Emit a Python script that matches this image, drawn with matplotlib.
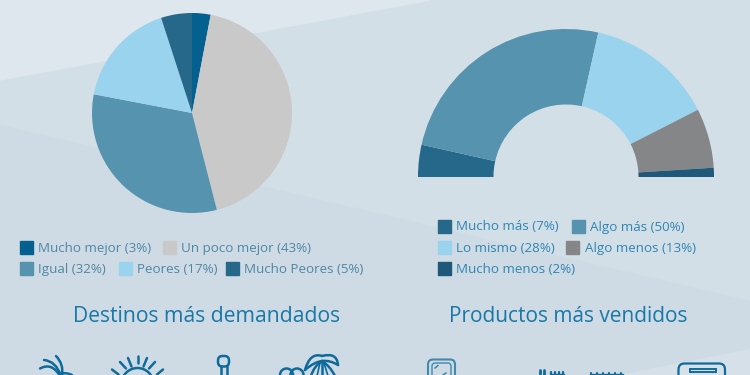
import matplotlib
matplotlib.use('Agg')
import matplotlib.pyplot as plt
from matplotlib.patches import Polygon, Rectangle, Circle, FancyBboxPatch, PathPatch
from matplotlib.path import Path

plt.rcParams['font.family'] = ['Open Sans', 'DejaVu Sans']

# datos de los graficos
pie_labels = ['Mucho mejor (3%)', 'Un poco mejor (43%)', 'Igual (32%)', 'Peores (17%)', 'Mucho Peores (5%)']
pie_values = [3, 43, 32, 17, 5]
pie_colors = ['#04608f', '#c9c9ca', '#5693ae', '#9ad3ee', '#26688a']

half_labels = ['Mucho más (7%)', 'Algo más (50%)', 'Lo mismo (28%)', 'Algo menos (13%)', 'Mucho menos (2%)']
half_values = [7, 50, 28, 13, 2]
half_colors = ['#26688a', '#5693ae', '#9ad3ee', '#858688', '#1f5878']

titles = ['Destinos más demandados', 'Productos más vendidos']

W, H = 750, 375
BLUE = '#1878a8'
LEG_L = '#4f87a5'
LEG_R = '#2f85b3'
ICON = '#0f6a9c'
ICON2 = '#4289ae'

fig = plt.figure(figsize=(7.5, 3.75), dpi=100)
bg = fig.add_axes([0, 0, 1, 1])
bg.set_xlim(0, W)
bg.set_ylim(H, 0)
bg.axis('off')

# fondo con planos
bg.add_patch(Rectangle((0, 0), W, H, color='#cfdbe4', zorder=0))
bg.add_patch(Polygon([(0, 0), (W, 0), (W, 300), (0, 124)], color='#d3dfe7', zorder=1))
bg.add_patch(Polygon([(0, 0), (430, 0), (0, 80)], color='#dfe7ee', zorder=2))
bg.add_patch(Polygon([(W, 349), (W, H), (620, H)], color='#d5e0e8', zorder=2))


def px_axes(x0, y0, x1, y1):
    return fig.add_axes([x0 / W, 1 - y1 / H, (x1 - x0) / W, (y1 - y0) / H])


# tarta
ax1 = px_axes(92, 13, 292, 213)
ax1.pie(pie_values, colors=pie_colors, startangle=90, counterclock=False, radius=1)
ax1.set_xlim(-1, 1)
ax1.set_ylim(-1, 1)

# semicirculo
ax2 = px_axes(418, 29, 714, 325)
ax2.pie(half_values + [sum(half_values)], colors=half_colors + ['none'], startangle=180,
        counterclock=False, radius=1, wedgeprops={'width': 0.51})
ax2.set_xlim(-1, 1)
ax2.set_ylim(-1, 1)
ax2.patch.set_alpha(0)


def legend_row(items, y, color):
    # items: (x del cuadro, x del texto, texto, color)
    for xb, xt, txt, c in items:
        bg.add_patch(Rectangle((xb, y - 6.5), 13, 13, color=c, zorder=5))
        bg.text(xt, y + 1, txt, color=color, fontsize=9.6, va='center', ha='left', zorder=5)


legend_row([(20, 38, pie_labels[0], pie_colors[0]), (163, 181, pie_labels[1], pie_colors[1])], 247.5, LEG_L)
legend_row([(20, 38, pie_labels[2], pie_colors[2]), (119, 137, pie_labels[3], pie_colors[3]),
            (226, 244, pie_labels[4], pie_colors[4])], 268.5, LEG_L)

legend_row([(438, 456, half_labels[0], half_colors[0]), (572, 590, half_labels[1], half_colors[1])], 226, LEG_R)
legend_row([(438, 456, half_labels[2], half_colors[2]), (566, 585, half_labels[3], half_colors[3])], 247.5, LEG_R)
legend_row([(438, 456, half_labels[4], half_colors[4])], 268.5, LEG_R)

bg.text(207, 316.5, titles[0], color=BLUE, fontsize=15.2, ha='center', va='center', zorder=5)
bg.text(568.5, 316.5, titles[1], color=BLUE, fontsize=15, ha='center', va='center', zorder=5)


# iconos (cortados por el borde inferior)
def curve(p0, p1, p2, color=ICON, lw=1.8):
    path = Path([p0, p1, p2], [Path.MOVETO, Path.CURVE3, Path.CURVE3])
    bg.add_patch(PathPatch(path, fc='none', ec=color, lw=lw, capstyle='round', zorder=6))


def seg(p0, p1, color=ICON, lw=1.8):
    bg.plot([p0[0], p1[0]], [p0[1], p1[1]], color=color, lw=lw, solid_capstyle='round', zorder=6)


def ring(x, y, r, color=ICON, lw=1.8):
    bg.add_patch(Circle((x, y), r, fc='none', ec=color, lw=lw, zorder=6))


def box(x0, y0, x1, y1, rad, color=ICON, lw=1.8):
    bg.add_patch(FancyBboxPatch((x0 + rad, y0 + rad), x1 - x0 - 2 * rad, y1 - y0 - 2 * rad,
                                boxstyle=f'round,pad={rad}', fc='none', ec=color, lw=lw, zorder=6))


# palmera
curve((40, 368.5), (52, 362), (60, 376))
curve((44, 360), (56, 361), (61, 376))
curve((56, 356), (64, 364), (62, 376))
curve((60, 374), (66, 372), (72, 375))

# sol
ring(137.5, 384, 16)
for p0, p1 in [((137.5, 355.5), (137.5, 363)), ((128, 358), (131.5, 366.5)), ((147, 358), (143.5, 366.5)),
               ((120, 362), (126, 368.5)), ((155, 362), (149, 368.5)), ((112, 369.5), (118.5, 374.5)),
               ((163, 369.5), (157, 374.5))]:
    seg(p0, p1)

# torre
box(218, 356, 229, 366.5, 4.5)
seg((220.5, 366), (220.5, 376))
seg((226.5, 366), (226.5, 376))

# palmeras
ring(286.5, 375, 6.5)
ring(297, 375, 6.5)
curve((305, 370), (310, 352), (322, 356))
curve((338, 365), (337, 352), (322, 356))
curve((305, 370), (314, 362), (322, 361))
curve((338, 365), (330, 360), (322, 361))
curve((311, 376), (314, 366), (322, 361))
curve((335, 376), (330, 366), (322, 361))
seg((322, 361), (322, 376))
seg((317, 376), (320, 363), lw=1.2)
seg((328, 376), (324, 363), lw=1.2)

# espejo
box(428, 359.5, 455, 380, 5, ICON2, 1.5)
box(432, 363, 451, 380, 3, ICON2, 1.0)
seg((435, 368), (438, 365.5), ICON2, 1.2)
seg((443, 375), (446, 373), ICON2, 1.2)

# estanterias
seg((540, 369.5), (540, 376), ICON, 2)
seg((543.5, 369.5), (543.5, 376), ICON, 2)
for x in [551, 555, 559, 563]:
    seg((x, 372), (x, 376), ICON, 1.6)
bg.add_patch(Rectangle((550, 373.5), 14, 2, color=ICON, zorder=6))
for x in [591, 597, 603, 609, 615, 621]:
    seg((x, 372.5), (x, 376), ICON, 1.5)
bg.add_patch(Rectangle((590, 374), 33, 1.5, color=ICON, zorder=6))

# caja
box(678.5, 363.5, 725, 385, 6, ICON, 1.6)
bg.add_patch(Rectangle((689.5, 368.5), 26, 3.8, fc='none', ec=ICON, lw=1.4, zorder=6))

fig.savefig('out.png', dpi=100)
